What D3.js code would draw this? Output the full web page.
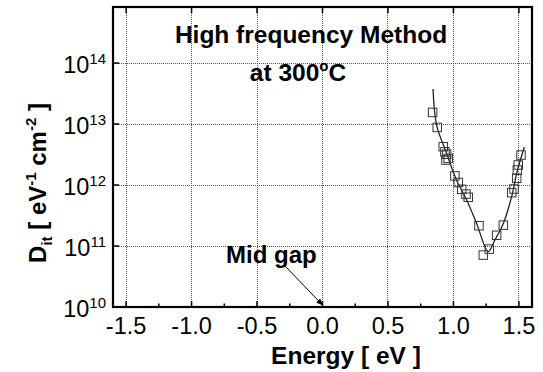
<!DOCTYPE html>
<html lang="en">
<head>
    <meta charset="UTF-8">
    <title>Dit vs Energy</title>
    <script src="https://d3js.org/d3.v7.min.js"></script>
    <style>
        body { margin: 0; background: #fff; }
        text { font-family: "Liberation Sans", Arial, sans-serif; fill: #000; }
        .grid line { stroke: #555; stroke-width: 1; stroke-dasharray: 1,1; shape-rendering: crispEdges; }
        .sq { fill: none; stroke: #333; stroke-width: 1; }
    </style>
</head>
<body>
<div id="chart"></div>

<script>
    // measured points (energy in eV, Dit in eV^-1 cm^-2)
    const energy = [0.841, 0.876, 0.922, 0.935, 0.948, 0.960, 0.943, 1.011, 1.037, 1.063, 1.096, 1.113,
        1.195, 1.228, 1.274, 1.330, 1.381, 1.445, 1.463, 1.483, 1.488, 1.495, 1.516];
    const dit = [1.55e13, 8.8e12, 4.25e12, 3.5e12, 3.2e12, 2.74e12, 2.57e12, 1.41e12, 1.1e12, 8.5e11, 7.1e11, 6.3e11,
        2.15e11, 7.1e10, 8.9e10, 1.5e11, 2.2e11, 7.5e11, 8.6e11, 1.29e12, 1.76e12, 2.13e12, 3.1e12];

    // fitted curve
    const fitEnergy = [0.844, 0.872, 0.948, 1.024, 1.101, 1.177, 1.266, 1.317, 1.381, 1.445, 1.483, 1.541];
    const fitDit = [3.75e13, 9.5e12, 3.3e12, 1.2e12, 5.7e11, 2.35e11, 8.1e10, 1.26e11, 2.35e11, 6.5e11, 1.55e12, 4.2e12];

    const xTicks = [-1.5, -1.0, -0.5, 0.0, 0.5, 1.0, 1.5];
    const xMinor = [-1.25, -0.75, -0.25, 0.25, 0.75, 1.25];
    const yExponents = [10, 11, 12, 13, 14];

    const width = 543, height = 372;
    const pLeft = 113, pRight = 532, pTop = 7, pBottom = 307;

    const svg = d3.select("#chart").append("svg")
        .attr("width", width)
        .attr("height", height);

    const x = d3.scaleLinear().domain([-1.6, 1.6]).range([pLeft, pRight]);
    const y = d3.scaleLog().domain([1e10, 8.3e14]).range([pBottom, pTop]);

    // grid
    const grid = svg.append("g").attr("class", "grid");
    grid.selectAll(".vg").data(xTicks).enter().append("line")
        .attr("x1", d => x(d)).attr("x2", d => x(d))
        .attr("y1", pTop).attr("y2", pBottom);
    grid.selectAll(".hg").data(yExponents.slice(1)).enter().append("line")
        .attr("x1", pLeft).attr("x2", pRight)
        .attr("y1", d => y(Math.pow(10, d))).attr("y2", d => y(Math.pow(10, d)));

    // ticks (inward)
    const ticks = svg.append("g").attr("stroke", "#000").attr("stroke-width", 1.5);
    ticks.selectAll(".xt").data(xTicks).enter().append("line")
        .attr("x1", d => x(d)).attr("x2", d => x(d))
        .attr("y1", pBottom).attr("y2", pBottom - 6);
    ticks.selectAll(".xm").data(xMinor).enter().append("line")
        .attr("x1", d => x(d)).attr("x2", d => x(d))
        .attr("y1", pBottom).attr("y2", pBottom - 3.5);
    ticks.selectAll(".xtt").data(xTicks).enter().append("line")
        .attr("x1", d => x(d)).attr("x2", d => x(d))
        .attr("y1", pTop).attr("y2", pTop + 6);
    ticks.selectAll(".yt").data(yExponents).enter().append("line")
        .attr("x1", pLeft).attr("x2", pLeft + 6)
        .attr("y1", d => y(Math.pow(10, d))).attr("y2", d => y(Math.pow(10, d)));

    // frame
    svg.append("rect")
        .attr("x", pLeft).attr("y", pTop)
        .attr("width", pRight - pLeft).attr("height", pBottom - pTop)
        .attr("fill", "none").attr("stroke", "#000").attr("stroke-width", 2.2);

    // x tick labels
    svg.append("g").selectAll("text").data(xTicks).enter().append("text")
        .attr("x", d => x(d)).attr("y", 334)
        .attr("text-anchor", "middle")
        .attr("font-size", 23.5)
        .text(d => d3.format(".1f")(d).replace("−", "-"));

    // y tick labels 10^n
    const yl = svg.append("g").selectAll("text").data(yExponents).enter().append("text")
        .attr("x", 106).attr("y", d => y(Math.pow(10, d)) + 10)
        .attr("text-anchor", "end")
        .attr("font-size", 23.5);
    yl.append("tspan").text("10");
    yl.append("tspan").attr("dy", -9).attr("font-size", 15).text(d => d);

    // fit curve
    const line = d3.line()
        .x((d, i) => x(fitEnergy[i]))
        .y(d => y(d))
        .curve(d3.curveCatmullRom);
    svg.append("path")
        .datum(fitDit)
        .attr("d", line)
        .attr("fill", "none")
        .attr("stroke", "#222")
        .attr("stroke-width", 1.3);

    // data squares
    const s = 8.5;
    svg.append("g").selectAll("rect").data(dit).enter().append("rect")
        .attr("class", "sq")
        .attr("x", (d, i) => x(energy[i]) - s / 2)
        .attr("y", d => y(d) - s / 2)
        .attr("width", s).attr("height", s);

    // title
    svg.append("text")
        .attr("x", 311).attr("y", 43)
        .attr("text-anchor", "middle")
        .attr("font-size", 24.5).attr("font-weight", "bold")
        .text("High frequency Method");
    const t2 = svg.append("text")
        .attr("x", 298).attr("y", 81)
        .attr("text-anchor", "middle")
        .attr("font-size", 24.5).attr("font-weight", "bold");
    t2.append("tspan").text("at 300");
    t2.append("tspan").attr("dy", -10).attr("font-size", 15).text("o");
    t2.append("tspan").attr("dy", 10).text("C");

    // mid gap annotation
    svg.append("defs").append("marker")
        .attr("id", "arr")
        .attr("viewBox", "0 0 10 10")
        .attr("refX", 9).attr("refY", 5)
        .attr("markerWidth", 7).attr("markerHeight", 7)
        .attr("orient", "auto")
        .append("path").attr("d", "M0,1 L10,5 L0,9 Z").attr("fill", "#000");
    svg.append("text")
        .attr("x", 226).attr("y", 263)
        .attr("font-size", 24).attr("font-weight", "bold")
        .text("Mid gap");
    svg.append("line")
        .attr("x1", 285).attr("y1", 266)
        .attr("x2", x(0)).attr("y2", pBottom - 2)
        .attr("stroke", "#000").attr("stroke-width", 1)
        .attr("marker-end", "url(#arr)");

    // axis titles
    svg.append("text")
        .attr("x", 346).attr("y", 364)
        .attr("text-anchor", "middle")
        .attr("font-size", 24.5).attr("font-weight", "bold")
        .text("Energy [ eV ]");

    const yt = svg.append("text")
        .attr("transform", "translate(46,183) rotate(-90)")
        .attr("text-anchor", "middle")
        .attr("font-size", 24).attr("font-weight", "bold");
    yt.append("tspan").text("D");
    yt.append("tspan").attr("dy", 6).attr("font-size", 15).text("it");
    yt.append("tspan").attr("dy", -6).text(" [ eV");
    yt.append("tspan").attr("dy", -10).attr("font-size", 15).text("-1");
    yt.append("tspan").attr("dy", 10).text(" cm");
    yt.append("tspan").attr("dy", -10).attr("font-size", 15).text("-2");
    yt.append("tspan").attr("dy", 10).text(" ]");
</script>
</body>
</html>
